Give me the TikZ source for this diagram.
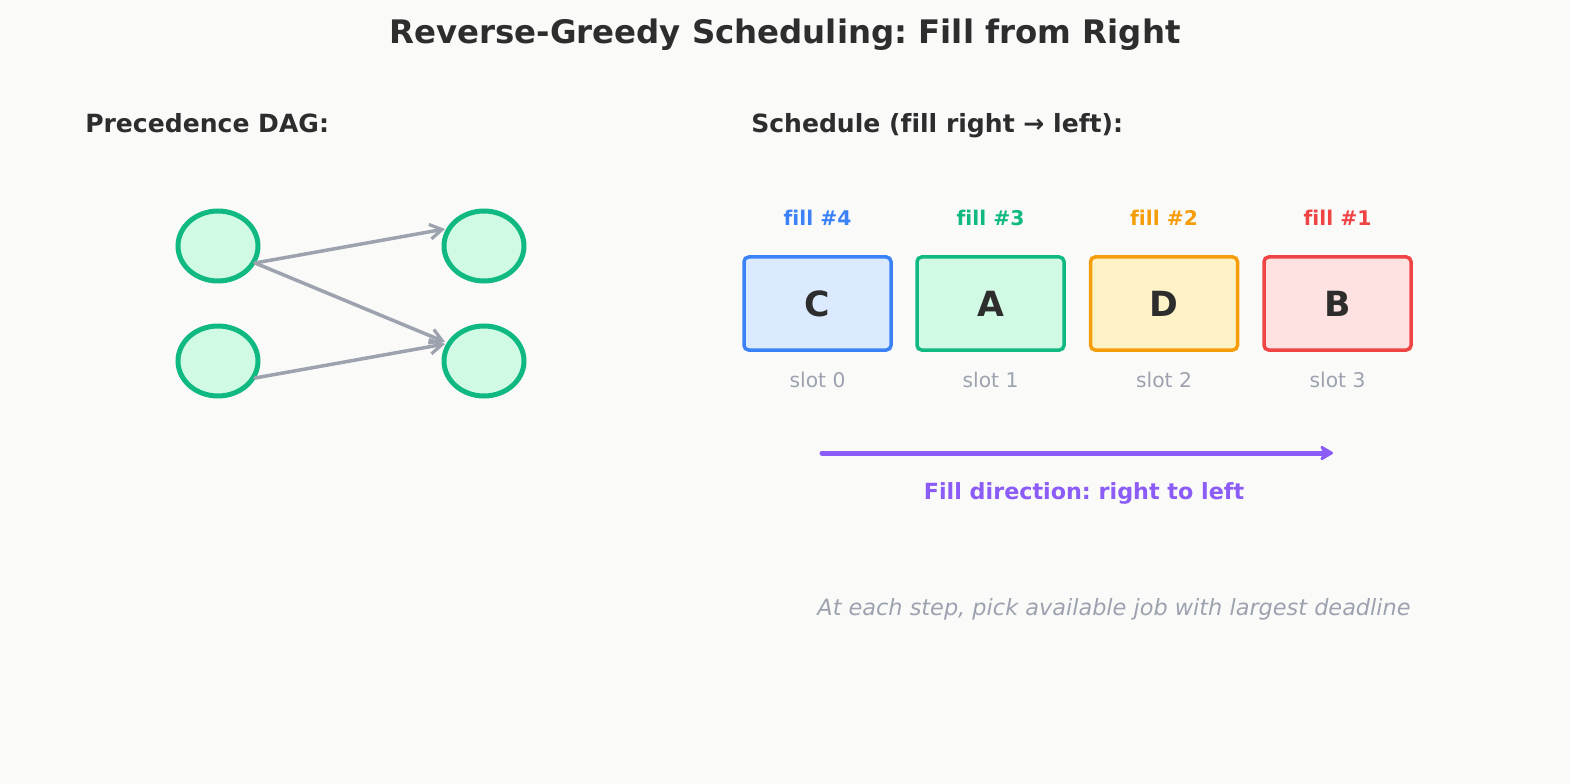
\documentclass[tikz,border=0pt]{standalone}
\usepackage{fontspec}
\setmainfont[Ligatures={NoCommon}]{DejaVu Sans}
\usetikzlibrary{shapes.geometric,arrows.meta,calc}
\definecolor{bg}{HTML}{FAFAF9}
\definecolor{ink}{HTML}{2D2D2D}
\definecolor{grayc}{HTML}{9CA3AF}
\definecolor{blueS}{HTML}{3B82F6}
\definecolor{blueF}{HTML}{DBEAFE}
\definecolor{greenS}{HTML}{10B981}
\definecolor{greenF}{HTML}{D1FAE5}
\definecolor{orangeS}{HTML}{F59E0B}
\definecolor{orangeF}{HTML}{FEF3C7}
\definecolor{redS}{HTML}{EF4444}
\definecolor{redF}{HTML}{FEE2E2}
\definecolor{purpleS}{HTML}{8B5CF6}
\frenchspacing
\tikzset{
  dagnode/.style={ellipse, draw=greenS, fill=greenF, line width=5*0.75pt, minimum width=80*0.75pt, minimum height=70*0.75pt, inner sep=0pt},
  dagedge/.style={draw=grayc, line width=3.5*0.75pt, line cap=round, -{Straight Barb[length=9pt,width=11pt,line width=2.4pt]}},
  slotbox/.style={rounded corners=3.5pt, line width=3.5*0.75pt, minimum width=147*0.75pt, minimum height=93*0.75pt, inner sep=0pt, font=\fontsize{26}{30}\selectfont\bfseries, text=ink},
  filllabel/.style={font=\fontsize{15.2}{18}\selectfont\bfseries},
  slotlabel/.style={font=\fontsize{15.2}{18}\selectfont, text=grayc},
  heading/.style={font=\fontsize{18.8}{22}\selectfont\bfseries, text=ink, anchor=base west, inner sep=0pt},
}
\begin{document}
\begin{tikzpicture}[x=0.75pt,y=-0.75pt]
\fill[bg] (0,0) rectangle (1570,784);
\useasboundingbox (0,0) rectangle (1570,784);
\node[font=\fontsize{24.3}{28}\selectfont\bfseries, text=ink] (title) at (785,35) {Reverse-Greedy Scheduling: Fill from Right};
\node[heading] (h1) at (85,133) {Precedence DAG:};
\node[heading] (h2) at (751,133) {Schedule (fill right → left):};
% DAG
\node[dagnode] (n1) at (218,246) {};
\node[dagnode] (n2) at (218,361) {};
\node[dagnode] (n3) at (484,246) {};
\node[dagnode] (n4) at (484,361) {};
\draw[dagedge] ($(n1.center)+(37,17)$) -- ($(n3.center)+(-39,-17)$);
\draw[dagedge] ($(n1.center)+(37,17)$) -- ($(n4.center)+(-39,-19)$);
\draw[dagedge] ($(n2.center)+(37,17)$) -- ($(n4.center)+(-39,-17)$);
% schedule
\node[slotbox, draw=blueS, fill=blueF] (s0) at (817.5,303.5) {C};
\node[slotbox, draw=greenS, fill=greenF] (s1) at (990.5,303.5) {A};
\node[slotbox, draw=orangeS, fill=orangeF] (s2) at (1164,303.5) {D};
\node[slotbox, draw=redS, fill=redF] (s3) at (1337.5,303.5) {B};
\node[filllabel, text=blueS] (f0) at (817.5,218) {fill \#4};
\node[filllabel, text=greenS] (f1) at (990.5,218) {fill \#3};
\node[filllabel, text=orangeS] (f2) at (1164,218) {fill \#2};
\node[filllabel, text=redS] (f3) at (1337.5,218) {fill \#1};
\node[slotlabel] (l0) at (817.5,380) {slot 0};
\node[slotlabel] (l1) at (990.5,380) {slot 1};
\node[slotlabel] (l2) at (1164,380) {slot 2};
\node[slotlabel] (l3) at (1337.5,380) {slot 3};
\coordinate (a0) at (822,453);
\coordinate (a1) at (1333,453);
\draw[purpleS, line width=5*0.75pt, line cap=round, -{Stealth[length=12pt,width=14pt,inset=4pt,round]}] (a0) -- (a1);
\node[font=\fontsize{16.7}{20}\selectfont\bfseries, text=purpleS] (fd) at (1084,493) {Fill direction: right to left};
\node[font=\fontsize{16.8}{20}\selectfont\itshape, text=grayc] (note) at (1114,609) {At each step, pick available job with largest deadline};
\end{tikzpicture}
\end{document}
